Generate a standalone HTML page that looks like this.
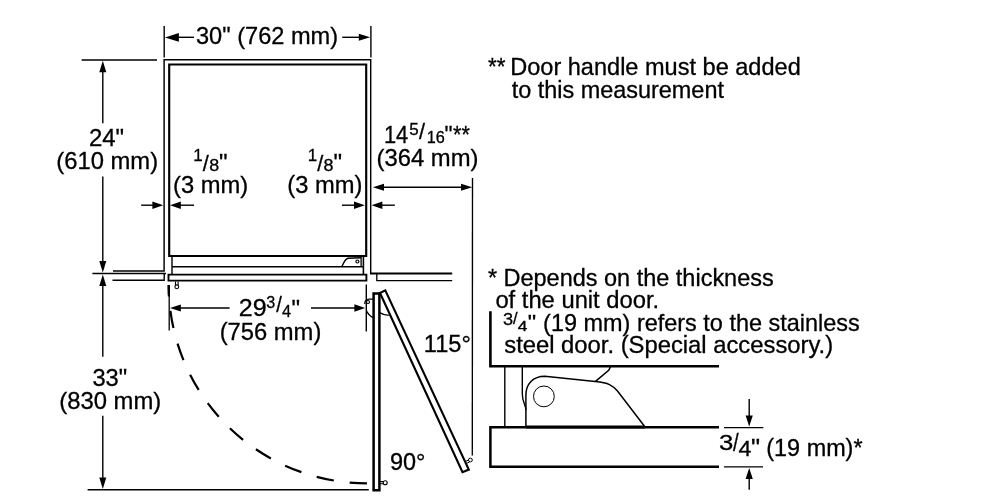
<!DOCTYPE html>
<html><head><meta charset="utf-8"><title>Installation dimensions</title>
<style>
html,body{margin:0;padding:0;background:#fff;}
svg{display:block;font-family:"Liberation Sans",sans-serif;will-change:transform;}
svg text{fill:#000;stroke:#000;stroke-width:0.3px;}
</style></head>
<body>
<svg width="1000" height="500" viewBox="0 0 1000 500">
<rect width="1000" height="500" fill="#fff"/>
<g stroke="#000" fill="none" stroke-linecap="butt" stroke-linejoin="miter">
<path d="M113,271 H164.1 V59.8 H370.7 V273.6" stroke-width="1.45" fill="none" />
<line x1="370" y1="273.6" x2="452.2" y2="273.6" stroke-width="2.0" />
<path d="M169.2,256 V64.5 H366.2 V256 Z" stroke-width="2.15" fill="none" />
<line x1="172" y1="256" x2="172" y2="274" stroke-width="1.4" />
<line x1="363.4" y1="256" x2="363.4" y2="274" stroke-width="1.6" />
<line x1="172" y1="266.8" x2="363" y2="266.8" stroke-width="1.4" />
<path d="M168.5,274.6 H366.4 V280.6 H168.5 Z" stroke-width="1.9" fill="none" />
<path d="M175.5,281.5 V285 M178.1,281.5 V285" stroke-width="1.1" fill="none" />
<circle cx="176.8" cy="286.8" r="1.9" stroke-width="1.1" fill="none"/>
<path d="M112.5,280.2 H164.2 V273.5" stroke-width="1.4" fill="none" />
<path d="M452.2,280.7 H376.8 V273.8" stroke-width="1.3" fill="none" />
<path d="M342,266.3 C343.6,262.8 345.2,259 348,258.3 L361,257.7" stroke-width="1.4" fill="none" />
<line x1="361.1" y1="257" x2="361.1" y2="266.5" stroke-width="1.3" />
<circle cx="357.4" cy="261.5" r="1.5" stroke-width="1.2" fill="none"/>
<line x1="164.2" y1="26" x2="164.2" y2="57.5" stroke-width="1.4" />
<line x1="370.9" y1="26" x2="370.9" y2="57.5" stroke-width="1.4" />
<polygon points="164.9,37.4 178.90,33.00 178.90,41.80" fill="#000" stroke="none"/>
<line x1="178" y1="37.3" x2="194" y2="37.3" stroke-width="1.4" />
<polygon points="370.1,37.3 358.80,40.80 358.80,33.80" fill="#000" stroke="none"/>
<line x1="342.2" y1="37.3" x2="359" y2="37.3" stroke-width="1.4" />
<line x1="81.6" y1="60" x2="157" y2="60" stroke-width="1.5" />
<line x1="92.4" y1="273.5" x2="166" y2="273.5" stroke-width="1.4" />
<line x1="87.6" y1="489.8" x2="368.8" y2="489.8" stroke-width="1.4" />
<polygon points="102.8,60.8 106.30,72.30 99.30,72.30" fill="#000" stroke="none"/>
<line x1="102.8" y1="72" x2="102.8" y2="123.2" stroke-width="1.4" />
<line x1="102.8" y1="176.4" x2="102.8" y2="262" stroke-width="1.4" />
<polygon points="102.8,272.6 99.30,261.10 106.30,261.10" fill="#000" stroke="none"/>
<polygon points="102.8,274.6 106.30,286.10 99.30,286.10" fill="#000" stroke="none"/>
<line x1="102.8" y1="285" x2="102.8" y2="356.8" stroke-width="1.4" />
<line x1="102.8" y1="415.8" x2="102.8" y2="479" stroke-width="1.4" />
<polygon points="102.8,489 99.30,477.50 106.30,477.50" fill="#000" stroke="none"/>
<line x1="141.2" y1="205.2" x2="153" y2="205.2" stroke-width="1.4" />
<polygon points="163.2,205.2 152.40,208.90 152.40,201.50" fill="#000" stroke="none"/>
<polygon points="170,205.2 180.80,201.50 180.80,208.90" fill="#000" stroke="none"/>
<line x1="180" y1="205.2" x2="194" y2="205.2" stroke-width="1.4" />
<line x1="342" y1="205.2" x2="354.5" y2="205.2" stroke-width="1.4" />
<polygon points="364.8,205.2 354.00,208.90 354.00,201.50" fill="#000" stroke="none"/>
<polygon points="371.6,205.2 382.40,201.50 382.40,208.90" fill="#000" stroke="none"/>
<line x1="382" y1="205.2" x2="394.8" y2="205.2" stroke-width="1.4" />
<polygon points="372.8,187.2 384.00,183.70 384.00,190.70" fill="#000" stroke="none"/>
<line x1="383" y1="187.2" x2="462" y2="187.2" stroke-width="1.4" />
<polygon points="472.2,187.2 461.00,190.70 461.00,183.70" fill="#000" stroke="none"/>
<line x1="472.5" y1="178" x2="472.3" y2="455.6" stroke-width="1.35" />
<polygon points="170,308 180.80,304.50 180.80,311.50" fill="#000" stroke="none"/>
<line x1="180" y1="308" x2="229.6" y2="308" stroke-width="1.4" />
<line x1="311" y1="308" x2="355" y2="308" stroke-width="1.4" />
<polygon points="365.2,308 354.40,311.70 354.40,304.30" fill="#000" stroke="none"/>
<line x1="169.2" y1="292" x2="169.2" y2="330.4" stroke-width="1.3" />
<line x1="168.75" y1="284.9" x2="168.95" y2="296.6" stroke-width="2.2" />
<line x1="366.3" y1="284.4" x2="366.3" y2="331.6" stroke-width="1.4" />
<path d="M168.7,285 A198.3,198.3 0 0 0 367,483.3" stroke-width="2.2" fill="none" stroke-dasharray="17.5 16" stroke-dashoffset="7.5"/>
<path d="M373.6,293.4 H379.4 V490.3 H373.6 Z" stroke-width="2.5" fill="none" />
<path d="M380,293 L385.3,290.4 L468.8,469.6 L462.5,472.2 Z" stroke-width="2.15" fill="none" />
<circle cx="368" cy="302" r="1.5" stroke-width="1.1" fill="none"/>
<path d="M364.8,304 C364.6,300.6 366.4,299.3 369,299.2 L373,299.1" stroke-width="1.3" fill="none" />
<path d="M366.4,310.5 C367.6,313.5 370,316 373,317.6" stroke-width="1.3" fill="none" />
<path d="M379,312.4 C382,314.2 385,315.2 388.8,315.3" stroke-width="1.3" fill="none" />
<path d="M380,481.6 H383.3 M380,483.8 H383.3" stroke-width="1.1" fill="none" />
<circle cx="385.2" cy="482.7" r="2.0" stroke-width="1.1" fill="none"/>
<path d="M465.2,461.6 L468.6,460 M466.1,463.6 L469.5,462" stroke-width="1.0" fill="none" />
<circle cx="470.4" cy="460" r="1.9" stroke-width="1.0" fill="none"/>
<path d="M490.4,311.3 V366.3 H719" stroke-width="2.6" fill="none" />
<path d="M719,427.3 H490.4 V466.7 H719" stroke-width="2.5" fill="none" />
<line x1="525.9" y1="427" x2="644.7" y2="427" stroke-width="3.2" />
<line x1="504.8" y1="366" x2="504.8" y2="427" stroke-width="1.4" />
<path d="M522.3,366 V394 C522.3,402 525.9,405 525.9,410" stroke-width="1.4" fill="none" />
<path d="M525.9,427 V395 C525.9,384 533,376.2 544.8,376.2 L595.2,381.6 C609,383 612,385 617.5,391 L644.7,426.5" stroke-width="1.5" fill="none" />
<path d="M595.2,381.6 L608.7,370.3 L610.5,366.8" stroke-width="1.5" fill="none" />
<circle cx="543.9" cy="396.4" r="10.4" stroke-width="1.0" fill="none"/>
<line x1="724" y1="427.6" x2="763.4" y2="427.6" stroke-width="1.1" />
<line x1="724" y1="466.9" x2="763" y2="466.9" stroke-width="1.1" />
<line x1="749.2" y1="399" x2="749.2" y2="416" stroke-width="1.4" />
<polygon points="749.2,426.4 745.60,415.40 752.80,415.40" fill="#000" stroke="none"/>
<polygon points="749.2,468 752.80,479.00 745.60,479.00" fill="#000" stroke="none"/>
<line x1="749.2" y1="478" x2="749.2" y2="489.8" stroke-width="1.4" />
</g>
<g>
<text transform="translate(196.00,43.9)" font-size="23.6">30" (762 mm)</text>
<text transform="translate(88.93,145.6) scale(1.0171,1)" font-size="23.6">24"</text>
<text transform="translate(56.29,169.4) scale(1.0082,1)" font-size="23.6">(610 mm)</text>
<text transform="translate(193.35,161.2)" font-size="17">1</text>
<text transform="translate(202.80,170.7) scale(0.9600,1)" font-size="22.6">/</text>
<text transform="translate(209.16,170.8) scale(1.1200,1)" font-size="16">8</text>
<text transform="translate(218.98,171.3) scale(1.0240,1)" font-size="23.6">"</text>
<text transform="translate(172.99,193.4) scale(1.0063,1)" font-size="23.6">(3 mm)</text>
<text transform="translate(307.85,161.2)" font-size="17">1</text>
<text transform="translate(317.20,170.7) scale(0.9600,1)" font-size="22.6">/</text>
<text transform="translate(323.56,170.8) scale(1.1200,1)" font-size="16">8</text>
<text transform="translate(333.38,171.3) scale(1.0240,1)" font-size="23.6">"</text>
<text transform="translate(287.29,193.4) scale(1.0049,1)" font-size="23.6">(3 mm)</text>
<text transform="translate(383.88,142.5) scale(0.9263,1)" font-size="23.6">14</text>
<text transform="translate(409.23,135) scale(1.0323,1)" font-size="16.5">5</text>
<text transform="translate(419.00,139) scale(0.9600,1)" font-size="22.6">/</text>
<text transform="translate(426.73,142.5) scale(1.0159,1)" font-size="16">16</text>
<text transform="translate(444.54,142.7) scale(0.9600,1)" font-size="23.6">"</text>
<text transform="translate(453.04,142.9) scale(0.9143,1)" font-size="23.6">**</text>
<text transform="translate(376.48,166) scale(1.0102,1)" font-size="23.6">(364 mm)</text>
<text transform="translate(238.87,316.4) scale(1.0611,1)" font-size="23.6">29</text>
<text transform="translate(266.26,307.7) scale(0.9806,1)" font-size="16.5">3</text>
<text transform="translate(276.20,311.5) scale(0.8960,1)" font-size="22.6">/</text>
<text transform="translate(281.95,316.5) scale(1.0182,1)" font-size="16">4</text>
<text transform="translate(291.58,316.8) scale(1.0240,1)" font-size="23.6">"</text>
<text transform="translate(219.69,340.2) scale(1.0071,1)" font-size="23.6">(756 mm)</text>
<text transform="translate(92.40,385.5) scale(1.0031,1)" font-size="23.6">33"</text>
<text transform="translate(59.28,408.8) scale(1.0102,1)" font-size="23.6">(830 mm)</text>
<text transform="translate(423.85,352)" font-size="23.6">115°</text>
<text transform="translate(389.90,469.6) scale(0.9955,1)" font-size="23.6">90°</text>
<text transform="translate(487.93,75.2) scale(0.9486,1)" font-size="23.6">**</text>
<text transform="translate(510.20,75.2) scale(0.9981,1)" font-size="23.6">Door handle must be added</text>
<text transform="translate(511.75,98.2) scale(0.9932,1)" font-size="23.6">to this measurement</text>
<text transform="translate(487.90,286.3) scale(0.9953,1)" font-size="23.6">* Depends on the thickness</text>
<text transform="translate(495.39,308.4) scale(1.0069,1)" font-size="23.6">of the unit door.</text>
<text transform="translate(502.99,324.9) scale(1.0839,1)" font-size="16.8">3</text>
<text transform="translate(513.00,324.3) scale(0.9684,1)" font-size="17">/</text>
<text transform="translate(517.71,330.8) scale(1.1733,1)" font-size="14.8">4</text>
<text transform="translate(527.77,328.6) scale(1.1273,1)" font-size="21">"</text>
<text transform="translate(543.11,330.6) scale(0.9942,1)" font-size="23.6">(19 mm) refers to the stainless</text>
<text transform="translate(504.24,352.9) scale(1.0093,1)" font-size="23.6">steel door. (Special accessory.)</text>
<text transform="translate(719.03,450) scale(1.1707,1)" font-size="22">3</text>
<text transform="translate(733.00,450.6) scale(0.8615,1)" font-size="23.6">/</text>
<text transform="translate(738.46,455.8) scale(1.0791,1)" font-size="21.5">4</text>
<text transform="translate(751.11,456.3) scale(1.0880,1)" font-size="23.6">"</text>
<text transform="translate(766.31,455.8) scale(0.9916,1)" font-size="23.6">(19 mm)*</text>
</g>
</svg>
</body></html>
